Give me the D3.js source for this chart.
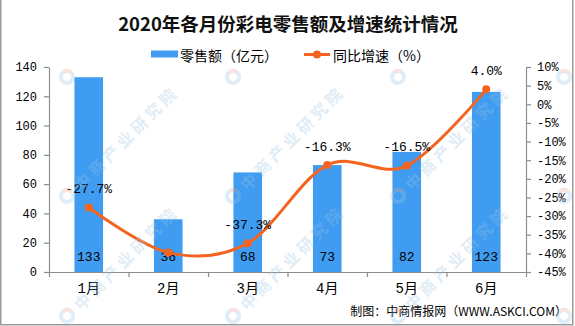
<!DOCTYPE html>
<html><head><meta charset="utf-8">
<script src="https://cdn.jsdelivr.net/npm/d3@7"></script>
<style>
html,body{margin:0;padding:0;background:#fff;}
svg{display:block;}
</style></head>
<body>
<svg id="chart" width="575" height="326"></svg>
<script>
const months = ["1月","2月","3月","4月","5月","6月"];
const sales = [133,36,68,73,82,123];
const growth = [-27.7,-39.8,-37.3,-16.3,-16.5,4.0];
const showGrowthLabel = [true,false,true,true,true,true];
const leftTicks = [0,20,40,60,80,100,120,140];
const rightTicks = [10,5,0,-5,-10,-15,-20,-25,-30,-35,-40,-45];
const titleText = "2020年各月份彩电零售额及增速统计情况";
const legendSales = "零售额（亿元）";
const legendGrowth = "同比增速（%）";
const sourceText = "制图：中商情报网（WWW.ASKCI.COM）";
const watermarkText = "中商产业研究院";

const W = 575, H = 326;
const BLUE = "#3f9cf0", ORANGE = "#f5641e", AXIS = "#8c8c8c";
const CJK = "'Noto Sans CJK SC', sans-serif";
const MONO = "'Liberation Mono', 'Noto Sans CJK SC', monospace";

const svg = d3.select("#chart");
svg.append("rect").attr("width", W).attr("height", H).attr("fill", "#fff");

const x = d3.scaleBand().domain(months).range([49, 526]).padding(0);
const xEdges = d3.scaleLinear().domain([0, months.length]).range([49, 526]);
const yL = d3.scaleLinear().domain([0, 140]).range([272, 67]);
const yR = d3.scaleLinear().domain([-45, 10]).range([272, 67]);
const barW = x.bandwidth() * 0.36;
const cx = m => x(m) + x.bandwidth() / 2;

// bars
svg.append("g").selectAll("rect").data(months).join("rect")
  .attr("x", (m) => cx(m) - barW / 2)
  .attr("y", (m, i) => yL(sales[i]))
  .attr("width", barW)
  .attr("height", (m, i) => yL(0) - yL(sales[i]))
  .attr("fill", BLUE);

// axes
function styleAxis(g) {
  g.select(".domain").attr("stroke", AXIS).attr("stroke-width", 1.2);
  g.selectAll(".tick line").attr("stroke", AXIS).attr("stroke-width", 1.2);
  g.selectAll("text").attr("fill", "#000").attr("font-family", MONO).attr("font-size", 12);
}
svg.append("g").attr("transform", "translate(49,0)")
  .call(d3.axisLeft(yL).tickValues(leftTicks).tickSize(5).tickPadding(7).tickSizeOuter(0))
  .call(styleAxis);
svg.append("g").attr("transform", "translate(526,0)")
  .call(d3.axisRight(yR).tickValues(rightTicks).tickFormat(d => d + "%").tickSize(5).tickPadding(6).tickSizeOuter(0))
  .call(styleAxis);
svg.append("g").attr("transform", "translate(0,272)")
  .call(d3.axisBottom(xEdges).tickValues(d3.range(months.length + 1)).tickFormat("").tickSize(5).tickSizeOuter(0))
  .call(styleAxis);
const xa = svg.append("g").attr("transform", "translate(0,272)")
  .call(d3.axisBottom(x).tickSize(0).tickPadding(11));
xa.select(".domain").remove();
xa.selectAll("text").attr("fill", "#000").attr("font-family", MONO).attr("font-size", 14);

// bar value labels
svg.append("g").selectAll("text").data(months).join("text")
  .attr("x", cx).attr("y", 257)
  .attr("text-anchor", "middle").attr("dominant-baseline", "central")
  .attr("font-family", MONO).attr("font-size", 13).attr("fill", "#000")
  .text((m, i) => sales[i]);

// growth line
const line = d3.line()
  .x((d, i) => cx(months[i]))
  .y(d => yR(d))
  .curve(d3.curveCardinal.tension(0));
svg.append("path").datum(growth).attr("d", line)
  .attr("fill", "none").attr("stroke", ORANGE).attr("stroke-width", 3);
svg.append("g").selectAll("circle").data(growth).join("circle")
  .attr("cx", (d, i) => cx(months[i])).attr("cy", d => yR(d)).attr("r", 4)
  .attr("fill", ORANGE);
svg.append("g").selectAll("text").data(growth.filter((d, i) => showGrowthLabel[i])).join("text")
  .attr("x", d => cx(months[growth.indexOf(d)]))
  .attr("y", d => yR(d) - 18)
  .attr("text-anchor", "middle").attr("dominant-baseline", "central")
  .attr("font-family", MONO).attr("font-size", 13).attr("fill", "#000")
  .text(d => d.toFixed(1) + "%");

// title
svg.append("text").attr("x", 288).attr("y", 23)
  .attr("text-anchor", "middle").attr("dominant-baseline", "central")
  .attr("font-family", CJK).attr("font-weight", "bold").attr("font-size", 18.5)
  .attr("fill", "#111").text(titleText);

// legend
svg.append("rect").attr("x", 151).attr("y", 50.5).attr("width", 27).attr("height", 7).attr("fill", BLUE);
svg.append("text").attr("x", 180).attr("y", 54.5).attr("dominant-baseline", "central")
  .attr("font-family", CJK).attr("font-size", 14).attr("fill", "#000").text(legendSales);
svg.append("line").attr("x1", 304).attr("x2", 330).attr("y1", 54.5).attr("y2", 54.5)
  .attr("stroke", ORANGE).attr("stroke-width", 3);
svg.append("circle").attr("cx", 317).attr("cy", 54.5).attr("r", 4).attr("fill", ORANGE);
svg.append("text").attr("x", 333).attr("y", 54.5).attr("dominant-baseline", "central")
  .attr("font-family", CJK).attr("font-size", 14).attr("fill", "#000").text(legendGrowth);

// source
svg.append("text").attr("x", 567).attr("y", 310).attr("text-anchor", "end").attr("dominant-baseline", "central")
  .attr("font-family", CJK).attr("font-size", 12).attr("fill", "#000").text(sourceText);

// watermarks (text only where it fits inside the picture; logos everywhere)
const wmX = [-99, 67, 233, 398, 564];
const wmY = [77, 196, 316];
const wm = svg.append("g").attr("pointer-events", "none");
wmY.forEach(yy => wmX.forEach(xx => {
  const g = wm.append("g").attr("transform", `translate(${xx},${yy}) rotate(-45)`).attr("opacity", 0.3);
  g.append("circle").attr("r", 6).attr("fill", "none").attr("stroke", "#9cc4e4").attr("stroke-width", 4);
  g.append("path").attr("d", d3.arc()({innerRadius: 4, outerRadius: 8, startAngle: 0.3, endAngle: 1.6}))
    .attr("fill", "#f0a090");
  const fits = xx > 0 && xx + 125 < W && yy - 125 > 0;
  if (fits) {
    g.append("text").attr("x", 13).attr("y", 0).attr("dominant-baseline", "central")
      .attr("font-family", CJK).attr("font-weight", "bold").attr("font-size", 16)
      .attr("letter-spacing", 4).attr("fill", "#9cc4e4").text(watermarkText);
  }
}));

// border
svg.append("path").attr("d", `M0.75,0 V${H - 1.25} H${W - 2.25} V0`)
  .attr("fill", "none").attr("stroke", "#999").attr("stroke-width", 1.5);
</script>
</body></html>
